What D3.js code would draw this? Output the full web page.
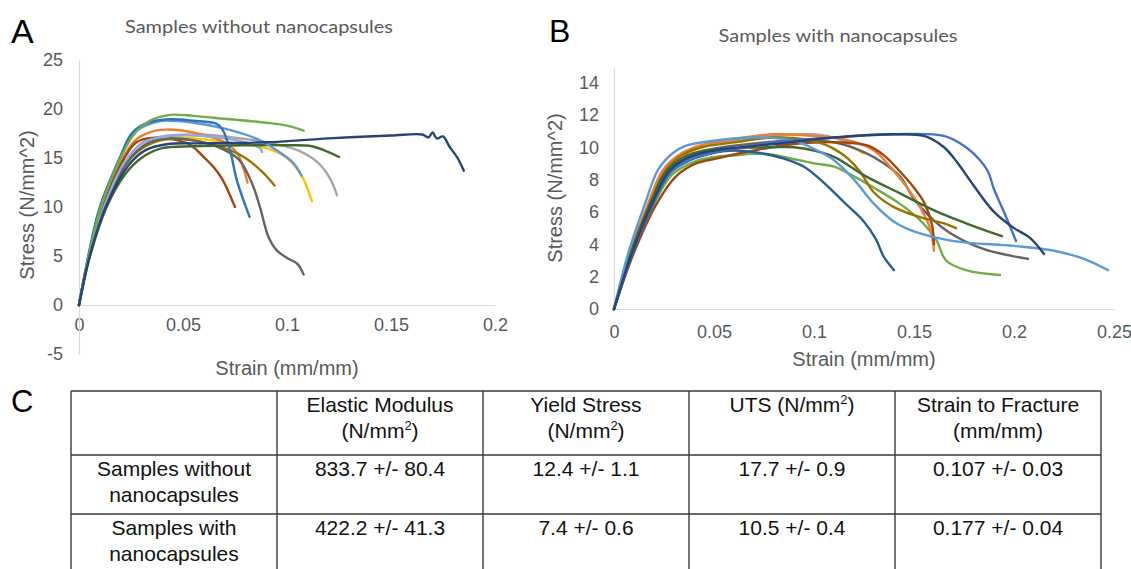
<!DOCTYPE html>
<html>
  <head>
    <meta charset="utf-8">
    <title>Tensile tests with and without nanocapsules</title>
    <script src="https://cdn.jsdelivr.net/npm/d3@7"></script>
    <style>
      body { margin: 0; background: #fff; }
      svg text { font-family: "Liberation Sans", Arial, sans-serif; }
      .panelLetter { fill: #000; }
      .plotTitle { font-family: Lato, "Open Sans", sans-serif; fill: #595959; }
      .axisTitle { fill: #595959; font-size: 20px; }
      .axis text { fill: #595959; font-size: 18px; }
      .axis path { stroke: #d9d9d9; stroke-width: 1.2; }
      .curve { fill: none; stroke-width: 2.4; stroke-linecap: round; stroke-linejoin: round; }
      .grid line { stroke: #3a3a3a; stroke-width: 1.4; }
      .cell { fill: #111; font-size: 21px; }
    </style>
  </head>

  <body>
    <svg id="chart" width="1131" height="569"></svg>

    <script>
      // ---- data: [strain (mm/mm), stress (N/mm^2)] ----
      // panel A, samples without nanocapsules
      const curvesA = [
        [[0,0],[0.005,5],[0.012,10],[0.022,14.5],[0.03,16.5],[0.04,17.2],[0.055,17.4],[0.07,17.2],[0.09,16.6],[0.105,15.8],[0.115,14.5],[0.121,12.8],[0.124,11.2]],
        [[0,0],[0.005,5],[0.0125,10],[0.023,14.5],[0.032,16.3],[0.042,17.0],[0.055,17.0],[0.075,16.5],[0.09,16.0],[0.1,15.0],[0.107,13.2],[0.112,10.6]],
        [[0,0],[0.0048,5],[0.0115,10],[0.02,14.5],[0.027,16.8],[0.035,17.7],[0.042,17.9],[0.055,17.6],[0.07,16.6],[0.076,15.5],[0.079,14],[0.081,12.5]],
        [[0,0],[0.0048,5],[0.0115,10],[0.0205,14.5],[0.027,16.5],[0.033,17.0],[0.045,16.9],[0.053,16.4],[0.06,15.1],[0.065,14],[0.069,12.8],[0.075,10.0]],
        [[0,0],[0.005,5],[0.0125,10],[0.023,14.5],[0.032,16.2],[0.042,16.9],[0.055,16.8],[0.07,16.0],[0.08,15.0],[0.088,13.6],[0.094,12.2]],
        [[0,0],[0.005,5],[0.0125,10],[0.023,14.5],[0.032,16.4],[0.042,17.0],[0.055,16.8],[0.068,16.0],[0.077,14.8],[0.083,12.5],[0.087,10],[0.091,7],[0.095,5.6],[0.1,4.8],[0.105,4.2],[0.108,3.1]],
        [[0,0],[0.005,5],[0.012,10],[0.022,14.6],[0.031,16.6],[0.042,17.2],[0.055,17.3],[0.07,17.0],[0.08,16.6],[0.087,16.0],[0.088,15.6]],
        [[0,0],[0.0053,5],[0.0133,10],[0.022,13.3],[0.03,15.0],[0.04,16.0],[0.055,16.2],[0.08,16.3],[0.1,16.3],[0.112,16.2],[0.12,15.6],[0.125,15.1]],
        [[0,0],[0.0045,5],[0.0102,10],[0.0195,15],[0.025,17.3],[0.032,18.3],[0.04,18.8],[0.055,18.6],[0.07,18.0],[0.085,17.0],[0.095,15.8],[0.103,14.5],[0.107,13.2]],
        [[0,0],[0.0045,5],[0.010,10],[0.0197,15],[0.0253,17.5],[0.033,18.6],[0.044,18.95],[0.055,18.8],[0.066,18.5],[0.069,17.9],[0.0726,15.8],[0.0758,12.8],[0.082,9.0]],
        [[0,0],[0.0047,5],[0.0105,10],[0.02,15],[0.026,17.3],[0.034,18.8],[0.044,19.4],[0.055,19.3],[0.07,19.0],[0.09,18.6],[0.1,18.3],[0.108,17.8]],
        [[0,0],[0.0052,5],[0.0128,10],[0.024,14.3],[0.032,15.8],[0.042,16.4],[0.06,16.5],[0.09,16.6],[0.12,17.0],[0.15,17.3],[0.165,17.4],[0.168,17.1],[0.17,17.6],[0.172,17.0],[0.175,17.2],[0.178,16.2],[0.182,15],[0.185,13.7]]
      ];
      const coloursA = ["#A5A5A5", "#FFC000", "#ED7D31", "#9E480E", "#997300", "#636363",
                        "#8FAADC", "#43682B", "#5B9BD5", "#2E75B6", "#70AD47", "#264478"];

      // panel B, samples with nanocapsules
      const curvesB = [
        [[0,0],[0.0088,3.4],[0.019,6.5],[0.028,8.5],[0.037,9.3],[0.047,9.7],[0.06,9.9],[0.08,10.3],[0.1,10.4],[0.115,10.2],[0.125,9.6]],
        [[0,0],[0.008,3.4],[0.0175,6.5],[0.025,8.5],[0.033,9.5],[0.043,10.0],[0.055,10.3],[0.08,10.7],[0.1,10.8],[0.11,10.6],[0.118,10.2]],
        [[0,0],[0.0085,3.4],[0.0185,6.5],[0.027,8.5],[0.036,9.3],[0.046,9.8],[0.06,10.1],[0.09,10.4],[0.11,10.3],[0.125,9.7],[0.135,9.0],[0.143,8.2],[0.15,6.8],[0.158,5.7],[0.168,4.7],[0.185,3.7],[0.207,3.1]],
        [[0,0],[0.0093,3.4],[0.02,6.5],[0.029,8.3],[0.04,9.1],[0.05,9.4],[0.06,9.5],[0.075,9.6],[0.085,9.4],[0.1,9.0],[0.11,8.8],[0.12,8.2],[0.13,7.5],[0.143,6.5],[0.153,5.5],[0.161,4.3],[0.166,3.0],[0.176,2.4],[0.193,2.1]],
        [[0,0],[0.0078,3.4],[0.017,6.5],[0.024,8.5],[0.031,9.4],[0.04,10.0],[0.055,10.4],[0.08,10.8],[0.1,10.7],[0.115,10.5],[0.13,9.8],[0.138,8.8],[0.146,7.6],[0.153,6.3],[0.158,5.0],[0.16,3.6]],
        [[0,0],[0.0097,3.4],[0.0213,6.5],[0.031,8.2],[0.041,9.0],[0.051,9.3],[0.07,9.8],[0.09,10.2],[0.115,10.3],[0.127,10.1],[0.135,9.5],[0.143,8.5],[0.15,7.5],[0.155,6.6],[0.159,5.2],[0.16,4.0]],
        [[0,0],[0.0082,3.4],[0.018,6.5],[0.026,8.6],[0.034,9.5],[0.044,10.0],[0.06,10.3],[0.08,10.6],[0.095,10.5],[0.105,10.2],[0.11,9.9],[0.117,9.3],[0.123,8.5],[0.13,7.2],[0.14,6.3],[0.155,5.6],[0.165,5.3],[0.171,5.0]],
        [[0,0],[0.0083,3.4],[0.018,6.5],[0.026,8.5],[0.035,9.4],[0.045,9.8],[0.06,9.95],[0.08,10.0],[0.09,10.0],[0.1,9.8],[0.11,9.4],[0.126,8.2],[0.143,7.15],[0.16,6.1],[0.176,5.3],[0.194,4.5]],
        [[0,0],[0.009,3.4],[0.0195,6.5],[0.028,8.4],[0.038,9.2],[0.048,9.6],[0.06,9.8],[0.075,9.6],[0.085,9.3],[0.095,8.8],[0.105,7.8],[0.115,6.6],[0.125,5.4],[0.131,4.3],[0.135,3.2],[0.14,2.4]],
        [[0,0],[0.007,3.4],[0.0155,6.5],[0.022,8.6],[0.029,9.6],[0.036,10.1],[0.05,10.4],[0.07,10.6],[0.09,10.4],[0.1,9.9],[0.11,9.2],[0.12,8.0],[0.13,6.5],[0.14,5.4],[0.15,4.8],[0.17,4.2],[0.2,3.9],[0.22,3.6],[0.235,3.1],[0.247,2.4]],
        [[0,0],[0.009,3.4],[0.0195,6.5],[0.028,8.4],[0.037,9.2],[0.047,9.6],[0.06,9.9],[0.08,10.3],[0.11,10.6],[0.14,10.8],[0.165,10.7],[0.176,10.0],[0.183,9.2],[0.187,8.5],[0.19,7.4],[0.195,6.0],[0.201,4.2]],
        [[0,0],[0.0088,3.4],[0.019,6.5],[0.0275,8.5],[0.036,9.3],[0.046,9.7],[0.06,9.95],[0.08,10.2],[0.11,10.6],[0.14,10.8],[0.155,10.7],[0.165,10.0],[0.172,9.0],[0.18,7.6],[0.19,6.0],[0.2,5.0],[0.208,4.4],[0.215,3.4]]
      ];
      const coloursB = ["#FFC000", "#A5A5A5", "#636363", "#70AD47", "#ED7D31", "#9E480E",
                        "#997300", "#43682B", "#255E91", "#5B9BD5", "#4472C4", "#264478"];

      // axis ticks
      const ticksAX = [0, 0.05, 0.1, 0.15, 0.2];
      const ticksAY = [-5, 0, 5, 10, 15, 20, 25];
      const ticksBX = [0, 0.05, 0.1, 0.15, 0.2, 0.25];
      const ticksBY = [0, 2, 4, 6, 8, 10, 12, 14];

      // table C
      const tableHeader = [[""], ["Elastic Modulus", "(N/mm²)"], ["Yield Stress", "(N/mm²)"],
                           ["UTS (N/mm²)"], ["Strain to Fracture", "(mm/mm)"]];
      const rowLabels = [["Samples without", "nanocapsules"], ["Samples with", "nanocapsules"]];
      const tableValues = [
        ["833.7 +/- 80.4", "12.4 +/- 1.1", "17.7 +/- 0.9", "0.107 +/- 0.03"],
        ["422.2 +/- 41.3", "7.4 +/- 0.6", "10.5 +/- 0.4", "0.177 +/- 0.04"]
      ];

      // ---- page ----
      const chart = d3.select("#chart");
      chart.append("rect").attr("width", 1131).attr("height", 569).attr("fill", "#fff");

      const line = d3.line().curve(d3.curveCatmullRom.alpha(0.5));

      function drawPanel(opts) {
        const x = d3.scaleLinear().domain(opts.xDomain).range(opts.xRange);
        const y = d3.scaleLinear().domain(opts.yDomain).range(opts.yRange);
        const g = chart.append("g");

        const xAxis = d3.axisBottom(x).tickValues(opts.xTicks).tickFormat(String)
          .tickSize(0).tickPadding(opts.xPad);
        const yAxis = d3.axisLeft(y).tickValues(opts.yTicks).tickFormat(String)
          .tickSize(0).tickPadding(opts.yPad);

        g.append("g").attr("class", "axis")
          .attr("transform", "translate(0," + y(0) + ")")
          .call(xAxis);
        g.append("g").attr("class", "axis")
          .attr("transform", "translate(" + x(0) + ",0)")
          .call(yAxis);
        chart.selectAll(".axis").attr("font-size", null).attr("font-family", null);

        g.append("g")
          .selectAll("path")
          .data(opts.curves)
          .join("path")
            .attr("class", "curve")
            .attr("stroke", (d, i) => opts.colours[i])
            .attr("d", d => line(d.map(p => [x(p[0]), y(p[1])])));

        g.append("text").attr("class", "plotTitle")
          .attr("x", opts.title.x).attr("y", opts.title.y)
          .attr("text-anchor", "middle")
          .attr("font-size", 18)
          .attr("textLength", opts.title.w).attr("lengthAdjust", "spacingAndGlyphs")
          .text(opts.title.text);

        g.append("text").attr("class", "axisTitle")
          .attr("x", opts.xTitle[0]).attr("y", opts.xTitle[1])
          .attr("text-anchor", "middle")
          .text("Strain (mm/mm)");

        g.append("text").attr("class", "axisTitle")
          .attr("transform", "translate(" + opts.yTitle[0] + "," + opts.yTitle[1] + ") rotate(-90)")
          .attr("text-anchor", "middle").attr("dy", "0.35em")
          .text("Stress (N/mm^2)");

        g.append("text").attr("class", "panelLetter")
          .attr("x", opts.letter[0]).attr("y", opts.letter[1])
          .attr("font-size", opts.letter[2])
          .text(opts.letter[3]);
      }

      drawPanel({
        curves: curvesA, colours: coloursA,
        xDomain: [0, 0.2], xRange: [79, 495], xTicks: ticksAX, xPad: 13,
        yDomain: [-5, 25], yRange: [354, 60], yTicks: ticksAY, yPad: 16,
        title: { text: "Samples without nanocapsules", x: 259, y: 33, w: 268 },
        xTitle: [287, 375], yTitle: [27, 205],
        letter: [11, 43, 34, "A"]
      });

      drawPanel({
        curves: curvesB, colours: coloursB,
        xDomain: [0, 0.25], xRange: [614, 1114], xTicks: ticksBX, xPad: 16,
        yDomain: [0, 14.9], yRange: [309, 68], yTicks: ticksBY, yPad: 15,
        title: { text: "Samples with nanocapsules", x: 838, y: 42, w: 239 },
        xTitle: [864, 366], yTitle: [555, 188],
        letter: [549, 42, 32, "B"]
      });

      // ---- table C ----
      const colX = d3.scaleLinear().domain([0, 5]).range([71, 1101]);
      const rowTops = [391, 455, 514, 580];
      const colW = colX(1) - colX(0);

      chart.append("text").attr("class", "panelLetter")
        .attr("x", 11).attr("y", 412).attr("font-size", 31).text("C");

      const grid = chart.append("g").attr("class", "grid");
      grid.selectAll(".h").data(rowTops.slice(0, 3)).join("line")
        .attr("x1", colX(0)).attr("x2", colX(5))
        .attr("y1", d => d).attr("y2", d => d);
      grid.selectAll(".v").data(d3.range(6)).join("line")
        .attr("x1", d => colX(d)).attr("x2", d => colX(d))
        .attr("y1", rowTops[0]).attr("y2", rowTops[3]);

      function cellText(lines, col, top) {
        lines.forEach(function(str, k) {
          const t = chart.append("text").attr("class", "cell")
            .attr("x", colX(col) + colW / 2)
            .attr("y", top + 21 + k * 26)
            .attr("text-anchor", "middle");
          str.split("²").forEach(function(p, j) {
            if (j > 0) {
              t.append("tspan").attr("font-size", 13).attr("dy", -8).text("2");
              t.append("tspan").attr("dy", 8).text(p);
            } else {
              t.append("tspan").text(p);
            }
          });
        });
      }

      tableHeader.forEach((lines, c) => cellText(lines, c, rowTops[0]));
      rowLabels.forEach(function(lines, r) {
        cellText(lines, 0, rowTops[r + 1]);
        tableValues[r].forEach((v, c) => cellText([v], c + 1, rowTops[r + 1]));
      });
    </script>
  </body>
</html>
